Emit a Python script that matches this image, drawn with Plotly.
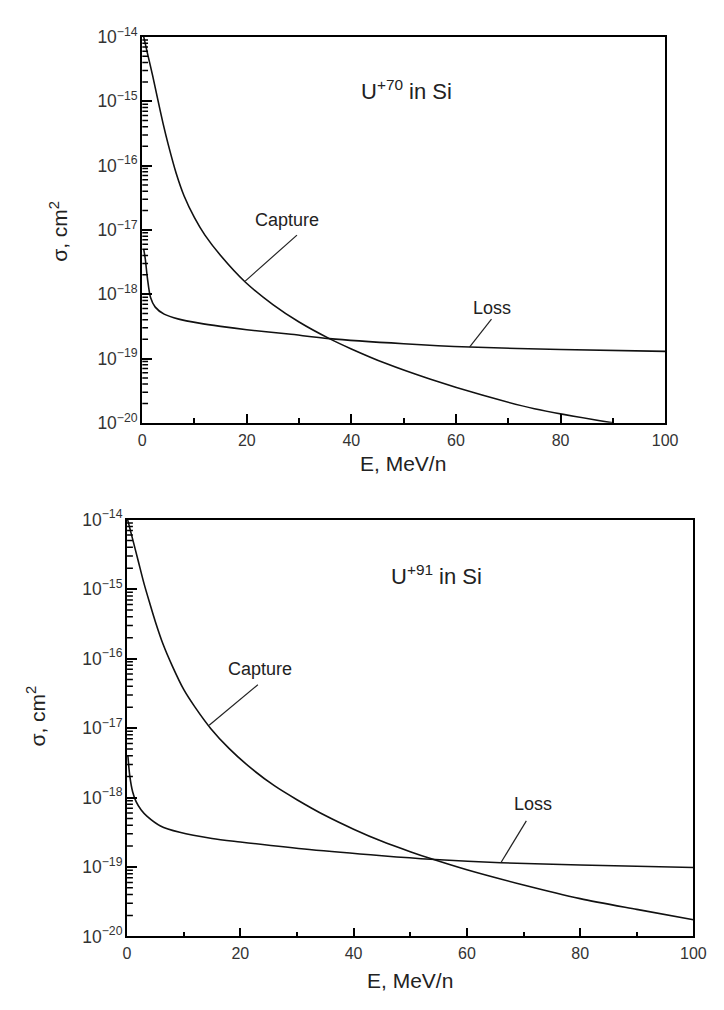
import plotly.graph_objects as go

W, H = 724, 1010

# ---------------- data ----------------
# Top panel: U+70 in Si
E_cap70 = [0.3, 1, 2, 3, 4, 5, 6.5, 8, 10, 12, 15, 19.7, 25, 30, 35.8, 40, 46.4, 55, 65, 75, 90]
S_cap70 = [1.0e-14, 5.6e-15, 2.5e-15, 1.05e-15, 4.5e-16, 2.1e-16, 7.6e-17, 3.4e-17, 1.55e-17,
           8.3e-18, 4.0e-18, 1.55e-18, 6.9e-19, 3.7e-19, 2.04e-19, 1.41e-19, 8.5e-20, 4.8e-20,
           2.7e-20, 1.66e-20, 1.0e-20]
E_loss70 = [0.3, 0.6, 1, 1.6, 2.5, 4.2, 7, 10.9, 15, 20, 28, 35.8, 50, 62.6, 80, 100]
S_loss70 = [5.0e-18, 3.5e-18, 1.78e-18, 8.9e-19, 6.3e-19, 4.9e-19, 4.1e-19, 3.55e-19, 3.16e-19,
            2.8e-19, 2.4e-19, 2.04e-19, 1.7e-19, 1.51e-19, 1.38e-19, 1.29e-19]

# Bottom panel: U+91 in Si
E_cap91 = [0.1, 1, 2, 3, 4, 5, 6.4, 8, 10, 12, 14.8, 18, 22, 26, 30, 35, 40, 45, 50, 53.6,
           60, 70, 80, 90, 100]
S_cap91 = [1.0e-14, 5.2e-15, 2.5e-15, 1.2e-15, 6.3e-16, 3.4e-16, 1.58e-16, 7.8e-17, 3.6e-17,
           2.0e-17, 9.8e-18, 5.1e-18, 2.6e-18, 1.48e-18, 9.3e-19, 5.5e-19, 3.5e-19, 2.34e-19,
           1.66e-19, 1.32e-19, 9.1e-20, 5.5e-20, 3.5e-20, 2.45e-20, 1.74e-20]
E_loss91 = [0.15, 0.5, 1, 1.6, 2.5, 3.5, 5.9, 9.3, 15, 20, 32.2, 45, 53.6, 66, 80, 100]
S_loss91 = [4.0e-18, 2.0e-18, 1.2e-18, 8.7e-19, 6.6e-19, 5.4e-19, 3.9e-19, 3.16e-19, 2.57e-19,
            2.29e-19, 1.78e-19, 1.45e-19, 1.29e-19, 1.15e-19, 1.07e-19, 9.8e-20]

x_tickvals = [0, 20, 40, 60, 80, 100]
decades = [-20, -19, -18, -17, -16, -15]
mantissas = [2, 3, 4, 5, 6, 7, 8, 9]

FONT = "Liberation Sans, Arial, sans-serif"
LINE = dict(color="#111111", width=1.6)

def px_x(p):
    return p / W

def px_y(p):
    return 1 - p / H

fig = go.Figure()
for xs, ys, xa, ya in [(E_cap70, S_cap70, "x", "y"), (E_loss70, S_loss70, "x", "y"),
                       (E_cap91, S_cap91, "x2", "y2"), (E_loss91, S_loss91, "x2", "y2")]:
    fig.add_trace(go.Scatter(x=xs, y=ys, mode="lines",
                             line=dict(shape="spline", smoothing=0.8, **LINE),
                             xaxis=xa, yaxis=ya, showlegend=False, hoverinfo="skip"))

def xax(domain, anchor):
    return dict(domain=domain, anchor=anchor, range=[0, 100], tickvals=x_tickvals,
                ticks="inside", ticklen=9, tickwidth=1.5, tickcolor="black",
                minor=dict(ticks="inside", ticklen=5, tickwidth=1.5, dtick=10, tickcolor="black"),
                showline=True, linecolor="black", linewidth=1.5, mirror=True,
                showgrid=False, zeroline=False, ticklabelstandoff=2,
                tickfont=dict(family=FONT, size=16, color="#333"))

def yax(domain, anchor):
    return dict(domain=domain, anchor=anchor, type="log", range=[-20, -14],
                dtick=1, exponentformat="power", showexponent="all",
                ticks="inside", ticklen=10, tickwidth=1.6, tickcolor="black",
                showline=True, linecolor="black", linewidth=1.5, mirror=True,
                showgrid=False, zeroline=False,
                tickfont=dict(family=FONT, size=14, color="#333"))

fig.update_layout(
    width=W, height=H,
    margin=dict(l=0, r=0, t=0, b=0),
    paper_bgcolor="white", plot_bgcolor="white",
    xaxis=xax([px_x(141.5), px_x(677)], "y"),
    yaxis=yax([px_y(420), px_y(25.5)], "x"),
    xaxis2=xax([px_x(126), px_x(706)], "y2"),
    yaxis2=yax([px_y(945), px_y(519)], "x2"),
    font=dict(family=FONT, color="#222"),
)

ann = []
def txt(x, y, t, size, xref="x", yref="y", angle=0):
    ann.append(dict(x=x, y=y, xref=xref, yref=yref, text=t, showarrow=False,
                    xanchor="center", yanchor="middle", textangle=angle,
                    font=dict(family=FONT, size=size, color="#222")))

# panel labels (annotation y on log axes is in log10 units)
txt(50.5, -14.83, "U<sup>+70</sup> in Si", 22)
txt(27.7, -16.84, "Capture", 18)
txt(66.9, -18.21, "Loss", 18)
txt(54.7, -14.79, "U<sup>+91</sup> in Si", 22, "x2", "y2")
txt(23.4, -16.15, "Capture", 18, "x2", "y2")
txt(71.7, -18.10, "Loss", 18, "x2", "y2")

# axis titles
txt(px_x(409), px_y(462), "E, MeV/n", 21, "paper", "paper")
txt(px_x(416), px_y(990), "E, MeV/n", 21, "paper", "paper")
txt(px_x(56), px_y(224), "σ, cm<sup>2</sup>", 21, "paper", "paper", -90)
txt(px_x(33), px_y(720), "σ, cm<sup>2</sup>", 21, "paper", "paper", -90)
fig.update_layout(annotations=ann)

shapes = []
# leader lines (shape coords on log axes are data values)
leaders = [
    ("x", "y", 29.6, 8.3e-18, 19.7, 1.6e-18),
    ("x", "y", 66.8, 4.1e-19, 62.6, 1.51e-19),
    ("x2", "y2", 23.1, 4.2e-17, 14.5, 1.1e-17),
    ("x2", "y2", 70.5, 4.6e-19, 66.0, 1.15e-19),
]
for xr, yr, x0, y0, x1, y1 in leaders:
    shapes.append(dict(type="line", xref=xr, yref=yr, x0=x0, y0=y0, x1=x1, y1=y1,
                       line=dict(color="#222", width=1.2)))

# y-axis minor tick comb, drawn inside the left axis (length given in E units)
for xr, yr, px_per_E in [("x", "y", (677 - 141.5) / 100), ("x2", "y2", (706 - 126) / 100)]:
    for d in decades:
        for m in mantissas:
            v = m * 10.0 ** d
            shapes.append(dict(type="line", xref=xr, yref=yr, x0=0, x1=6 / px_per_E,
                               y0=v, y1=v, line=dict(color="black", width=1.5)))
fig.update_layout(shapes=shapes)

fig.write_html("out.html")
